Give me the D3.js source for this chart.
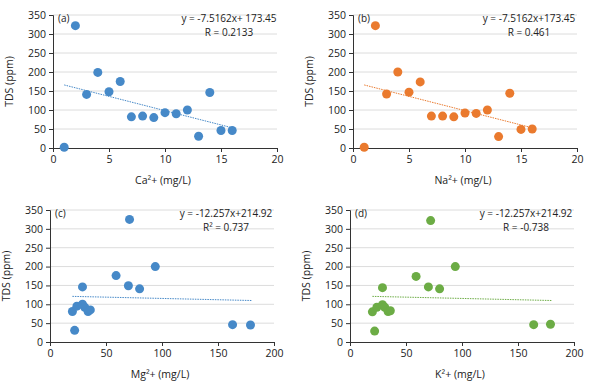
<!DOCTYPE html>
<html>
<head>
<meta charset="utf-8">
<script src="https://cdn.jsdelivr.net/npm/d3@7"></script>
<style>
  body { margin: 0; background: #fff; }
  svg text { font-family: "Open Sans", "Liberation Sans", sans-serif; fill: #222; }
</style>
</head>
<body>
<div id="chart"></div>
<script>
// Panel (a) Ca, (b) Na: x = 1..16
const caX = [1, 2, 3, 4, 5, 6, 7, 8, 9, 10, 11, 12, 13, 14, 15, 16];
const caTDS = [2, 322, 141, 199, 148, 175, 82, 84, 80, 93, 90, 100, 31, 146, 46, 46];
const naX = [1, 2, 3, 4, 5, 6, 7, 8, 9, 10, 11, 12, 13, 14, 15, 16];
const naTDS = [2, 322, 142, 200, 147, 174, 84, 84, 82, 92, 91, 100, 30, 144, 49, 50];

// Panel (c) Mg, (d) K
const mgX = [20, 22, 24, 29, 29, 31, 34, 36, 59, 70, 71, 80, 94, 163, 179];
const mgTDS = [81, 31, 95, 146, 100, 92, 81, 85, 176, 149, 325, 141, 200, 46, 45];
const kX = [20, 22, 24, 29, 29, 31, 34, 36, 59, 70, 72, 80, 94, 164, 179];
const kTDS = [80, 29, 92, 144, 99, 92, 81, 83, 174, 146, 322, 141, 200, 46, 47];

// trend lines as drawn: [x0, y0, x1, y1]
const trendA = [1, 173.45 - 7.5162 * 1, 16, 173.45 - 7.5162 * 16];
const trendC = [20, 121, 180, 110];

const yTicks = [0, 50, 100, 150, 200, 250, 300, 350];
const xTicksSmall = [0, 5, 10, 15, 20];
const xTicksLarge = [0, 50, 100, 150, 200];

const panels = [
  { tag: "(a)", xs: caX, ys: caTDS, color: "#4689c8", trend: trendA, xMax: 20, xTicks: xTicksSmall,
    xLabel: "Ca²+ (mg/L)", eq: "y = -7.5162x+ 173.45", r: "R = 0.2133",
    left: 53, top: 15, width: 224, height: 133 },
  { tag: "(b)", xs: naX, ys: naTDS, color: "#ea7a2e", trend: trendA, xMax: 20, xTicks: xTicksSmall,
    xLabel: "Na²+ (mg/L)", eq: "y = -7.5162x+173.45", r: "R = 0.461",
    left: 353, top: 15, width: 224, height: 133 },
  { tag: "(c)", xs: mgX, ys: mgTDS, color: "#4689c8", trend: trendC, xMax: 200, xTicks: xTicksLarge,
    xLabel: "Mg²+ (mg/L)", eq: "y = -12.257x+214.92", r: "R² = 0.737",
    left: 50, top: 210, width: 224, height: 132 },
  { tag: "(d)", xs: kX, ys: kTDS, color: "#6cac45", trend: trendC, xMax: 200, xTicks: xTicksLarge,
    xLabel: "K²+ (mg/L)", eq: "y = -12.257x+214.92", r: "R = -0.738",
    left: 350, top: 210, width: 224, height: 132 }
];

const svg = d3.select("#chart").append("svg")
  .attr("width", 605)
  .attr("height", 392);

panels.forEach(p => {
  const x = d3.scaleLinear().domain([0, p.xMax]).range([0, p.width]);
  const y = d3.scaleLinear().domain([0, 350]).range([p.height, 0]);

  const g = svg.append("g").attr("transform", `translate(${p.left},${p.top})`);

  // gridlines
  g.selectAll("line.grid")
    .data(yTicks.slice(1))
    .enter().append("line")
    .attr("class", "grid")
    .attr("x1", 0).attr("x2", p.width)
    .attr("y1", d => y(d)).attr("y2", d => y(d))
    .attr("stroke", "#dcdcdc").attr("stroke-width", 1);

  // axes
  const yAxis = g.append("g")
    .call(d3.axisLeft(y).tickValues(yTicks).tickSize(4).tickPadding(3));
  const xAxis = g.append("g")
    .attr("transform", `translate(0,${p.height})`)
    .call(d3.axisBottom(x).tickValues(p.xTicks).tickSize(4).tickPadding(4));
  [yAxis, xAxis].forEach(a => {
    a.select(".domain").attr("stroke", "#333");
    a.selectAll(".tick line").attr("stroke", "#333");
    a.selectAll("text").attr("font-size", 10.5).attr("fill", "#222")
      .style("font-family", "'Open Sans', sans-serif");
  });

  // trend line
  g.append("line")
    .attr("x1", x(p.trend[0])).attr("y1", y(p.trend[1]))
    .attr("x2", x(p.trend[2])).attr("y2", y(p.trend[3]))
    .attr("stroke", p.color).attr("stroke-width", 1)
    .attr("stroke-dasharray", "1.5,1");

  // points
  g.selectAll("circle")
    .data(p.xs.map((v, i) => [v, p.ys[i]]))
    .enter().append("circle")
    .attr("cx", d => x(d[0]))
    .attr("cy", d => y(d[1]))
    .attr("r", 4.5)
    .attr("fill", p.color);

  // labels
  g.append("text").attr("x", 5).attr("y", 7).attr("font-size", 10).text(p.tag);
  g.append("text").attr("x", p.width - 48).attr("y", 7).attr("text-anchor", "middle")
    .attr("font-size", 10).text(p.eq);
  g.append("text").attr("x", p.width - 48).attr("y", 21).attr("text-anchor", "middle")
    .attr("font-size", 10).text(p.r);

  g.append("text")
    .attr("transform", `translate(${-40},${p.height / 2}) rotate(-90)`)
    .attr("text-anchor", "middle").attr("font-size", 10.5)
    .text("TDS (ppm)");
  g.append("text")
    .attr("x", p.width / 2 - 2).attr("y", p.height + 36)
    .attr("text-anchor", "middle").attr("font-size", 10.5)
    .text(p.xLabel);
});
</script>
</body>
</html>
